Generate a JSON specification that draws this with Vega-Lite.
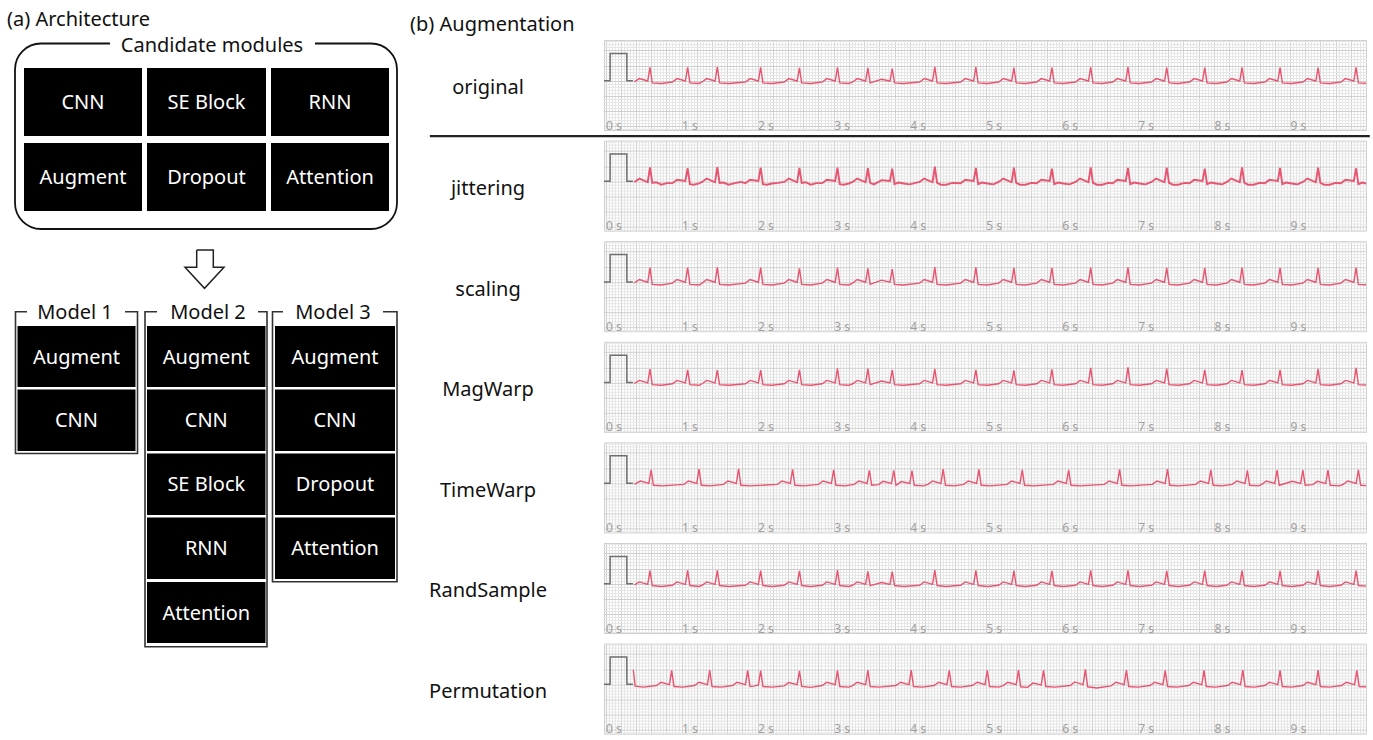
{
"$schema": "https://vega.github.io/schema/vega-lite/v6.json",
"background": "white",
"padding": 0,
"bounds": "flush",
"spacing": 4,
"config": {"view": {"stroke": null}, "font": "Noto Sans", "text": {"font": "Noto Sans"}, "axis": {"labelFont": "Noto Sans"}},
"hconcat": [
{
"width": 600, "height": 700,
"layer": [
{"data": {"values": [{"x1": 0, "x2": 600, "y1": 0, "y2": 740}]},
 "mark": {"type": "rect", "fill": "white"},
 "encoding": {"x": {"field": "x1", "type": "quantitative", "scale": {"domain": [0, 600], "nice": false, "zero": false}, "axis": null}, "x2": {"field": "x2"},
  "y": {"field": "y1", "type": "quantitative", "scale": {"domain": [40, 740], "reverse": true, "nice": false, "zero": false}, "axis": null}, "y2": {"field": "y2"}}},
{"data": {"values": [{"x1": 15, "x2": 397, "y1": 43.5, "y2": 229}]},
 "mark": {"type": "rect", "fill": "transparent", "stroke": "#111", "strokeWidth": 1.8, "cornerRadius": 26},
 "encoding": {"x": {"field": "x1", "type": "quantitative", "scale": {"domain": [0, 600], "nice": false, "zero": false}, "axis": null}, "x2": {"field": "x2"},
  "y": {"field": "y1", "type": "quantitative", "scale": {"domain": [40, 740], "reverse": true, "nice": false, "zero": false}, "axis": null}, "y2": {"field": "y2"}}},
{"data": {"values": [{"x1": 15.5, "x2": 137.5, "y1": 311.7, "y2": 453.5}, {"x1": 145, "x2": 267, "y1": 311.7, "y2": 646.7}, {"x1": 272.5, "x2": 397, "y1": 311.7, "y2": 581.7}]},
 "mark": {"type": "rect", "fill": "transparent", "stroke": "#333", "strokeWidth": 1.6},
 "encoding": {"x": {"field": "x1", "type": "quantitative", "scale": {"domain": [0, 600], "nice": false, "zero": false}, "axis": null}, "x2": {"field": "x2"},
  "y": {"field": "y1", "type": "quantitative", "scale": {"domain": [40, 740], "reverse": true, "nice": false, "zero": false}, "axis": null}, "y2": {"field": "y2"}}},
{"data": {"values": [{"x1": 110, "x2": 315, "y1": 35, "y2": 56}, {"x1": 27, "x2": 125, "y1": 302, "y2": 322}, {"x1": 157, "x2": 258, "y1": 302, "y2": 322}, {"x1": 283, "x2": 383, "y1": 302, "y2": 322}]},
 "mark": {"type": "rect", "fill": "white"},
 "encoding": {"x": {"field": "x1", "type": "quantitative", "scale": {"domain": [0, 600], "nice": false, "zero": false}, "axis": null}, "x2": {"field": "x2"},
  "y": {"field": "y1", "type": "quantitative", "scale": {"domain": [40, 740], "reverse": true, "nice": false, "zero": false}, "axis": null}, "y2": {"field": "y2"}}},
{"data": {"name": "cells", "values": [
  {"name": "CNN", "x1": 24, "x2": 142, "y1": 68, "y2": 136, "cx": 83, "cy": 103},
  {"name": "SE Block", "x1": 147, "x2": 266, "y1": 68, "y2": 136, "cx": 206.5, "cy": 103},
  {"name": "RNN", "x1": 271, "x2": 389, "y1": 68, "y2": 136, "cx": 330, "cy": 103},
  {"name": "Augment", "x1": 24, "x2": 142, "y1": 143, "y2": 211, "cx": 83, "cy": 178},
  {"name": "Dropout", "x1": 147, "x2": 266, "y1": 143, "y2": 211, "cx": 206.5, "cy": 178},
  {"name": "Attention", "x1": 271, "x2": 389, "y1": 143, "y2": 211, "cx": 330, "cy": 178},
  {"name": "Augment", "x1": 17.5, "x2": 135.5, "y1": 326, "y2": 387, "cx": 76.5, "cy": 357.5},
  {"name": "CNN", "x1": 17.5, "x2": 135.5, "y1": 389.5, "y2": 451, "cx": 76.5, "cy": 421},
  {"name": "Augment", "x1": 147, "x2": 265.5, "y1": 326, "y2": 387, "cx": 206.3, "cy": 357.5},
  {"name": "CNN", "x1": 147, "x2": 265.5, "y1": 389.5, "y2": 451, "cx": 206.3, "cy": 421},
  {"name": "SE Block", "x1": 147, "x2": 265.5, "y1": 453.5, "y2": 515, "cx": 206.3, "cy": 485},
  {"name": "RNN", "x1": 147, "x2": 265.5, "y1": 517.5, "y2": 579, "cx": 206.3, "cy": 549},
  {"name": "Attention", "x1": 147, "x2": 265.5, "y1": 582, "y2": 643, "cx": 206.3, "cy": 613.5},
  {"name": "Augment", "x1": 275, "x2": 395, "y1": 326, "y2": 387, "cx": 335, "cy": 357.5},
  {"name": "CNN", "x1": 275, "x2": 395, "y1": 389.5, "y2": 451, "cx": 335, "cy": 421},
  {"name": "Dropout", "x1": 275, "x2": 395, "y1": 453.5, "y2": 515, "cx": 335, "cy": 485},
  {"name": "Attention", "x1": 275, "x2": 395, "y1": 517.5, "y2": 579, "cx": 335, "cy": 549}
 ]},
 "layer": [
  {"mark": {"type": "rect", "fill": "black"},
   "encoding": {"x": {"field": "x1", "type": "quantitative", "scale": {"domain": [0, 600], "nice": false, "zero": false}, "axis": null}, "x2": {"field": "x2"},
    "y": {"field": "y1", "type": "quantitative", "scale": {"domain": [40, 740], "reverse": true, "nice": false, "zero": false}, "axis": null}, "y2": {"field": "y2"}}},
  {"mark": {"type": "text", "color": "white", "fontSize": 20, "align": "center", "baseline": "middle"},
   "encoding": {"x": {"field": "cx", "type": "quantitative", "scale": {"domain": [0, 600], "nice": false, "zero": false}, "axis": null},
    "y": {"field": "cy", "type": "quantitative", "scale": {"domain": [40, 740], "reverse": true, "nice": false, "zero": false}, "axis": null},
    "text": {"field": "name"}}}
 ]},
{"data": {"values": [{"label": "Candidate modules", "x1": 212, "y1": 45.5}, {"label": "Model 1", "x1": 75, "y1": 313}, {"label": "Model 2", "x1": 208, "y1": 313}, {"label": "Model 3", "x1": 333, "y1": 313}]},
 "mark": {"type": "text", "color": "#111", "fontSize": 20, "align": "center", "baseline": "middle"},
 "encoding": {"x": {"field": "x1", "type": "quantitative", "scale": {"domain": [0, 600], "nice": false, "zero": false}, "axis": null},
  "y": {"field": "y1", "type": "quantitative", "scale": {"domain": [40, 740], "reverse": true, "nice": false, "zero": false}, "axis": null},
  "text": {"field": "label"}}},
{"data": {"values": [{"i": 1, "x1": 196.7, "y1": 250}, {"i": 2, "x1": 213.3, "y1": 250}, {"i": 3, "x1": 213.3, "y1": 267.3}, {"i": 4, "x1": 224, "y1": 267.3}, {"i": 5, "x1": 204.5, "y1": 288.3}, {"i": 6, "x1": 185, "y1": 267.3}, {"i": 7, "x1": 196.7, "y1": 267.3}, {"i": 8, "x1": 196.7, "y1": 250}]},
 "mark": {"type": "line", "color": "#222", "strokeWidth": 1.5},
 "encoding": {"x": {"field": "x1", "type": "quantitative", "scale": {"domain": [0, 600], "nice": false, "zero": false}, "axis": null},
  "y": {"field": "y1", "type": "quantitative", "scale": {"domain": [40, 740], "reverse": true, "nice": false, "zero": false}, "axis": null},
  "order": {"field": "i", "type": "quantitative"}}},
{"data": {"values": [{"label": "(a) Architecture", "x1": 7, "y1": 10}, {"label": "(b) Augmentation", "x1": 410, "y1": 15}]},
 "mark": {"type": "text", "color": "#111", "fontSize": 20, "align": "left", "baseline": "top"},
 "encoding": {"x": {"field": "x1", "type": "quantitative", "scale": {"domain": [0, 600], "nice": false, "zero": false}, "axis": null},
  "y": {"field": "y1", "type": "quantitative", "scale": {"domain": [40, 740], "reverse": true, "nice": false, "zero": false}, "axis": null},
  "text": {"field": "label"}}}
]
},
{
"data": {"values": [
{"part": "cal", "t": -0.02, "original": 0, "jittering": 0, "scaling": 0, "MagWarp": 0, "TimeWarp": 0, "RandSample": 0, "Permutation": 0},
{"part": "cal", "t": 0.06, "original": 0, "jittering": 0, "scaling": 0, "MagWarp": 0, "TimeWarp": 0, "RandSample": 0, "Permutation": 0},
{"part": "cal", "t": 0.061, "original": 0.9, "jittering": 0.9, "scaling": 0.9, "MagWarp": 0.9, "TimeWarp": 0.9, "RandSample": 0.9, "Permutation": 0.9},
{"part": "cal", "t": 0.28, "original": 0.9, "jittering": 0.9, "scaling": 0.9, "MagWarp": 0.9, "TimeWarp": 0.9, "RandSample": 0.9, "Permutation": 0.9},
{"part": "cal", "t": 0.281, "original": 0, "jittering": 0, "scaling": 0, "MagWarp": 0, "TimeWarp": 0, "RandSample": 0, "Permutation": 0},
{"part": "cal", "t": 0.36, "original": 0, "jittering": 0, "scaling": 0, "MagWarp": 0, "TimeWarp": 0, "RandSample": 0, "Permutation": 0},
{"part": "label", "original": 0, "jittering": 0, "scaling": 0, "MagWarp": 0, "TimeWarp": 0, "RandSample": 0, "Permutation": 0},
{"part": "sep", "original": 0},
{"t": 0.38, "original": -0.03, "jittering": -0.02, "scaling": -0.03, "MagWarp": -0.03, "RandSample": -0.04},
{"t": 0.445, "original": 0.07, "jittering": 0.09, "scaling": 0.08, "MagWarp": 0.07, "RandSample": 0.06},
{"t": 0.555, "original": -0.01, "jittering": -0.03, "scaling": -0.01, "MagWarp": -0.01, "RandSample": -0.02},
{"t": 0.585, "original": 0.44, "jittering": 0.46, "scaling": 0.47, "MagWarp": 0.44, "RandSample": 0.43},
{"t": 0.615, "original": -0.07, "jittering": -0.05, "scaling": -0.08, "MagWarp": -0.07, "RandSample": -0.06},
{"t": 0.735, "original": -0.09, "jittering": -0.11, "scaling": -0.1, "MagWarp": -0.09, "RandSample": -0.09},
{"t": 0.88, "original": -0.04, "jittering": -0.06, "scaling": -0.04, "MagWarp": -0.04, "RandSample": -0.05},
{"t": 0.94, "original": 0.07, "jittering": 0.05, "scaling": 0.08, "MagWarp": 0.07, "RandSample": 0.06},
{"t": 1.05, "original": -0.01, "jittering": 0.01, "scaling": -0.01, "MagWarp": -0.01, "RandSample": -0.02},
{"t": 1.08, "original": 0.44, "jittering": 0.43, "scaling": 0.47, "MagWarp": 0.42, "RandSample": 0.44},
{"t": 1.11, "original": -0.07, "jittering": -0.09, "scaling": -0.08, "MagWarp": -0.07, "RandSample": -0.06},
{"t": 1.23, "original": -0.09, "jittering": -0.07, "scaling": -0.1, "MagWarp": -0.09, "RandSample": -0.09},
{"t": 1.27, "original": -0.04, "jittering": -0.02, "scaling": -0.04, "MagWarp": -0.04, "RandSample": -0.05},
{"t": 1.33, "original": 0.07, "jittering": 0.09, "scaling": 0.08, "MagWarp": 0.07, "RandSample": 0.06},
{"t": 1.44, "original": -0.01, "jittering": -0.03, "scaling": -0.01, "MagWarp": -0.01, "RandSample": -0.02},
{"t": 1.47, "original": 0.45, "jittering": 0.47, "scaling": 0.48, "MagWarp": 0.41, "RandSample": 0.44},
{"t": 1.5, "original": -0.07, "jittering": -0.05, "scaling": -0.08, "MagWarp": -0.07, "RandSample": -0.06},
{"t": 1.62, "original": -0.09, "jittering": -0.11, "scaling": -0.1, "MagWarp": -0.09, "RandSample": -0.09},
{"t": 1.84, "original": -0.04, "jittering": -0.06, "scaling": -0.04, "MagWarp": -0.04, "RandSample": -0.05},
{"t": 1.9, "original": 0.07, "jittering": 0.05, "scaling": 0.08, "MagWarp": 0.07, "RandSample": 0.06},
{"t": 2.01, "original": -0.01, "jittering": 0.01, "scaling": -0.01, "MagWarp": -0.01, "RandSample": -0.02},
{"t": 2.04, "original": 0.44, "jittering": 0.45, "scaling": 0.47, "MagWarp": 0.41, "RandSample": 0.43},
{"t": 2.07, "original": -0.07, "jittering": -0.09, "scaling": -0.08, "MagWarp": -0.07, "RandSample": -0.06},
{"t": 2.19, "original": -0.09, "jittering": -0.07, "scaling": -0.1, "MagWarp": -0.09, "RandSample": -0.09},
{"t": 2.35, "original": -0.04, "jittering": -0.02, "scaling": -0.04, "MagWarp": -0.04, "RandSample": -0.05},
{"t": 2.41, "original": 0.07, "jittering": 0.09, "scaling": 0.08, "MagWarp": 0.07, "RandSample": 0.06},
{"t": 2.52, "original": -0.01, "jittering": -0.03, "scaling": -0.01, "MagWarp": -0.01, "RandSample": -0.02},
{"t": 2.55, "original": 0.42, "jittering": 0.44, "scaling": 0.45, "MagWarp": 0.42, "RandSample": 0.42},
{"t": 2.58, "original": -0.07, "jittering": -0.05, "scaling": -0.08, "MagWarp": -0.07, "RandSample": -0.06},
{"t": 2.7, "original": -0.09, "jittering": -0.11, "scaling": -0.1, "MagWarp": -0.09, "RandSample": -0.09},
{"t": 2.85, "original": -0.04, "jittering": -0.06, "scaling": -0.04, "MagWarp": -0.04, "RandSample": -0.05},
{"t": 2.91, "original": 0.07, "jittering": 0.05, "scaling": 0.08, "MagWarp": 0.07, "RandSample": 0.06},
{"t": 3.02, "original": -0.01, "jittering": 0.01, "scaling": -0.01, "MagWarp": -0.01, "RandSample": -0.02},
{"t": 3.05, "original": 0.44, "jittering": 0.45, "scaling": 0.47, "MagWarp": 0.47, "RandSample": 0.45},
{"t": 3.08, "original": -0.07, "jittering": -0.09, "scaling": -0.08, "MagWarp": -0.07, "RandSample": -0.06},
{"t": 3.2, "original": -0.09, "jittering": -0.07, "scaling": -0.1, "MagWarp": -0.09, "RandSample": -0.09},
{"t": 3.25, "original": -0.04, "jittering": -0.02, "scaling": -0.04, "MagWarp": -0.04, "RandSample": -0.05},
{"t": 3.31, "original": 0.07, "jittering": 0.09, "scaling": 0.08, "MagWarp": 0.07, "RandSample": 0.06},
{"t": 3.42, "original": -0.01, "jittering": -0.03, "scaling": -0.01, "MagWarp": -0.01, "RandSample": -0.02},
{"t": 3.45, "original": 0.42, "jittering": 0.43, "scaling": 0.45, "MagWarp": 0.46, "RandSample": 0.41},
{"t": 3.48, "original": -0.07, "jittering": -0.05, "scaling": -0.08, "MagWarp": -0.07, "RandSample": -0.06},
{"t": 3.63, "original": 0.05, "jittering": 0.04, "scaling": 0.06, "MagWarp": 0.05, "RandSample": 0.04},
{"t": 3.74, "original": -0.01, "jittering": 0.01, "scaling": -0.01, "MagWarp": -0.01, "RandSample": -0.02},
{"t": 3.77, "original": 0.4, "jittering": 0.42, "scaling": 0.42, "MagWarp": 0.42, "RandSample": 0.4},
{"t": 3.8, "original": -0.07, "jittering": -0.09, "scaling": -0.08, "MagWarp": -0.07, "RandSample": -0.06},
{"t": 3.92, "original": -0.09, "jittering": -0.07, "scaling": -0.1, "MagWarp": -0.09, "RandSample": -0.09},
{"t": 4.13, "original": -0.04, "jittering": -0.02, "scaling": -0.04, "MagWarp": -0.04, "RandSample": -0.05},
{"t": 4.19, "original": 0.07, "jittering": 0.09, "scaling": 0.08, "MagWarp": 0.07, "RandSample": 0.06},
{"t": 4.3, "original": -0.01, "jittering": -0.03, "scaling": -0.01, "MagWarp": -0.01, "RandSample": -0.02},
{"t": 4.33, "original": 0.46, "jittering": 0.48, "scaling": 0.49, "MagWarp": 0.45, "RandSample": 0.45},
{"t": 4.36, "original": -0.07, "jittering": -0.05, "scaling": -0.08, "MagWarp": -0.07, "RandSample": -0.06},
{"t": 4.48, "original": -0.09, "jittering": -0.11, "scaling": -0.1, "MagWarp": -0.09, "RandSample": -0.09},
{"t": 4.67, "original": -0.04, "jittering": -0.06, "scaling": -0.04, "MagWarp": -0.04, "RandSample": -0.05},
{"t": 4.73, "original": 0.07, "jittering": 0.05, "scaling": 0.08, "MagWarp": 0.07, "RandSample": 0.06},
{"t": 4.84, "original": -0.01, "jittering": 0.01, "scaling": -0.01, "MagWarp": -0.01, "RandSample": -0.02},
{"t": 4.87, "original": 0.45, "jittering": 0.44, "scaling": 0.48, "MagWarp": 0.42, "RandSample": 0.44},
{"t": 4.9, "original": -0.07, "jittering": -0.09, "scaling": -0.08, "MagWarp": -0.07, "RandSample": -0.06},
{"t": 5.02, "original": -0.09, "jittering": -0.07, "scaling": -0.1, "MagWarp": -0.09, "RandSample": -0.09},
{"t": 5.17, "original": -0.04, "jittering": -0.02, "scaling": -0.04, "MagWarp": -0.04, "RandSample": -0.05},
{"t": 5.23, "original": 0.07, "jittering": 0.09, "scaling": 0.08, "MagWarp": 0.07, "RandSample": 0.06},
{"t": 5.34, "original": -0.01, "jittering": -0.03, "scaling": -0.01, "MagWarp": -0.01, "RandSample": -0.02},
{"t": 5.37, "original": 0.43, "jittering": 0.45, "scaling": 0.46, "MagWarp": 0.4, "RandSample": 0.43},
{"t": 5.4, "original": -0.07, "jittering": -0.05, "scaling": -0.08, "MagWarp": -0.07, "RandSample": -0.06},
{"t": 5.52, "original": -0.09, "jittering": -0.11, "scaling": -0.1, "MagWarp": -0.09, "RandSample": -0.09},
{"t": 5.67, "original": -0.04, "jittering": -0.06, "scaling": -0.04, "MagWarp": -0.04, "RandSample": -0.05},
{"t": 5.73, "original": 0.07, "jittering": 0.05, "scaling": 0.08, "MagWarp": 0.07, "RandSample": 0.06},
{"t": 5.84, "original": -0.01, "jittering": 0.01, "scaling": -0.01, "MagWarp": -0.01, "RandSample": -0.02},
{"t": 5.87, "original": 0.43, "jittering": 0.42, "scaling": 0.46, "MagWarp": 0.43, "RandSample": 0.42},
{"t": 5.9, "original": -0.07, "jittering": -0.09, "scaling": -0.08, "MagWarp": -0.07, "RandSample": -0.06},
{"t": 6.02, "original": -0.09, "jittering": -0.07, "scaling": -0.1, "MagWarp": -0.09, "RandSample": -0.09},
{"t": 6.18, "original": -0.04, "jittering": -0.02, "scaling": -0.04, "MagWarp": -0.04, "RandSample": -0.05},
{"t": 6.24, "original": 0.07, "jittering": 0.09, "scaling": 0.08, "MagWarp": 0.07, "RandSample": 0.06},
{"t": 6.35, "original": -0.01, "jittering": -0.03, "scaling": -0.01, "MagWarp": -0.01, "RandSample": -0.02},
{"t": 6.38, "original": 0.44, "jittering": 0.46, "scaling": 0.47, "MagWarp": 0.48, "RandSample": 0.44},
{"t": 6.41, "original": -0.07, "jittering": -0.05, "scaling": -0.08, "MagWarp": -0.07, "RandSample": -0.06},
{"t": 6.53, "original": -0.09, "jittering": -0.11, "scaling": -0.1, "MagWarp": -0.09, "RandSample": -0.09},
{"t": 6.67, "original": -0.04, "jittering": -0.06, "scaling": -0.04, "MagWarp": -0.04, "RandSample": -0.05},
{"t": 6.73, "original": 0.07, "jittering": 0.05, "scaling": 0.08, "MagWarp": 0.07, "RandSample": 0.06},
{"t": 6.84, "original": -0.01, "jittering": 0.01, "scaling": -0.01, "MagWarp": -0.01, "RandSample": -0.02},
{"t": 6.87, "original": 0.45, "jittering": 0.44, "scaling": 0.48, "MagWarp": 0.5, "RandSample": 0.44},
{"t": 6.9, "original": -0.07, "jittering": -0.09, "scaling": -0.08, "MagWarp": -0.07, "RandSample": -0.06},
{"t": 7.02, "original": -0.09, "jittering": -0.07, "scaling": -0.1, "MagWarp": -0.09, "RandSample": -0.09},
{"t": 7.18, "original": -0.04, "jittering": -0.02, "scaling": -0.04, "MagWarp": -0.04, "RandSample": -0.05},
{"t": 7.24, "original": 0.07, "jittering": 0.09, "scaling": 0.08, "MagWarp": 0.07, "RandSample": 0.06},
{"t": 7.35, "original": -0.01, "jittering": -0.03, "scaling": -0.01, "MagWarp": -0.01, "RandSample": -0.02},
{"t": 7.38, "original": 0.43, "jittering": 0.45, "scaling": 0.46, "MagWarp": 0.46, "RandSample": 0.42},
{"t": 7.41, "original": -0.07, "jittering": -0.05, "scaling": -0.08, "MagWarp": -0.07, "RandSample": -0.06},
{"t": 7.53, "original": -0.09, "jittering": -0.11, "scaling": -0.1, "MagWarp": -0.09, "RandSample": -0.09},
{"t": 7.68, "original": -0.04, "jittering": -0.06, "scaling": -0.04, "MagWarp": -0.04, "RandSample": -0.05},
{"t": 7.74, "original": 0.07, "jittering": 0.05, "scaling": 0.08, "MagWarp": 0.07, "RandSample": 0.06},
{"t": 7.85, "original": -0.01, "jittering": 0.01, "scaling": -0.01, "MagWarp": -0.01, "RandSample": -0.02},
{"t": 7.88, "original": 0.43, "jittering": 0.42, "scaling": 0.46, "MagWarp": 0.42, "RandSample": 0.43},
{"t": 7.91, "original": -0.07, "jittering": -0.09, "scaling": -0.08, "MagWarp": -0.07, "RandSample": -0.06},
{"t": 8.03, "original": -0.09, "jittering": -0.07, "scaling": -0.1, "MagWarp": -0.09, "RandSample": -0.09},
{"t": 8.17, "original": -0.04, "jittering": -0.02, "scaling": -0.04, "MagWarp": -0.04, "RandSample": -0.05},
{"t": 8.23, "original": 0.07, "jittering": 0.09, "scaling": 0.08, "MagWarp": 0.07, "RandSample": 0.06},
{"t": 8.34, "original": -0.01, "jittering": -0.03, "scaling": -0.01, "MagWarp": -0.01, "RandSample": -0.02},
{"t": 8.37, "original": 0.44, "jittering": 0.46, "scaling": 0.47, "MagWarp": 0.41, "RandSample": 0.43},
{"t": 8.4, "original": -0.07, "jittering": -0.05, "scaling": -0.08, "MagWarp": -0.07, "RandSample": -0.06},
{"t": 8.52, "original": -0.09, "jittering": -0.11, "scaling": -0.1, "MagWarp": -0.09, "RandSample": -0.09},
{"t": 8.67, "original": -0.04, "jittering": -0.06, "scaling": -0.04, "MagWarp": -0.04, "RandSample": -0.05},
{"t": 8.73, "original": 0.07, "jittering": 0.05, "scaling": 0.08, "MagWarp": 0.07, "RandSample": 0.06},
{"t": 8.84, "original": -0.01, "jittering": 0.01, "scaling": -0.01, "MagWarp": -0.01, "RandSample": -0.02},
{"t": 8.87, "original": 0.43, "jittering": 0.44, "scaling": 0.46, "MagWarp": 0.42, "RandSample": 0.42},
{"t": 8.9, "original": -0.07, "jittering": -0.09, "scaling": -0.08, "MagWarp": -0.07, "RandSample": -0.06},
{"t": 9.02, "original": -0.09, "jittering": -0.07, "scaling": -0.1, "MagWarp": -0.09, "RandSample": -0.09},
{"t": 9.17, "original": -0.04, "jittering": -0.02, "scaling": -0.04, "MagWarp": -0.04, "RandSample": -0.05},
{"t": 9.23, "original": 0.07, "jittering": 0.09, "scaling": 0.08, "MagWarp": 0.07, "RandSample": 0.06},
{"t": 9.34, "original": -0.01, "jittering": -0.03, "scaling": -0.01, "MagWarp": -0.01, "RandSample": -0.02},
{"t": 9.37, "original": 0.43, "jittering": 0.45, "scaling": 0.46, "MagWarp": 0.45, "RandSample": 0.44},
{"t": 9.4, "original": -0.07, "jittering": -0.05, "scaling": -0.08, "MagWarp": -0.07, "RandSample": -0.06},
{"t": 9.52, "original": -0.09, "jittering": -0.11, "scaling": -0.1, "MagWarp": -0.09, "RandSample": -0.09},
{"t": 9.67, "original": -0.04, "jittering": -0.06, "scaling": -0.04, "MagWarp": -0.04, "RandSample": -0.05},
{"t": 9.73, "original": 0.07, "jittering": 0.05, "scaling": 0.08, "MagWarp": 0.07, "RandSample": 0.06},
{"t": 9.84, "original": -0.01, "jittering": 0.01, "scaling": -0.01, "MagWarp": -0.01, "RandSample": -0.02},
{"t": 9.87, "original": 0.44, "jittering": 0.43, "scaling": 0.47, "MagWarp": 0.48, "RandSample": 0.43},
{"t": 9.9, "original": -0.07, "jittering": -0.09, "scaling": -0.08, "MagWarp": -0.07, "RandSample": -0.06},
{"t": 10.0, "original": -0.08, "jittering": -0.07, "scaling": -0.09, "MagWarp": -0.08, "RandSample": -0.08},
{"t": 0.665, "jittering": -0.03}, {"t": 0.805, "jittering": -0.06}, {"t": 1.16, "jittering": -0.11}, {"t": 1.55, "jittering": -0.04},
{"t": 1.7, "jittering": -0.06}, {"t": 1.78, "jittering": -0.02}, {"t": 2.12, "jittering": -0.11}, {"t": 2.27, "jittering": -0.05},
{"t": 2.63, "jittering": -0.03}, {"t": 2.77, "jittering": -0.06}, {"t": 3.13, "jittering": -0.11}, {"t": 3.53, "jittering": -0.1},
{"t": 3.85, "jittering": -0.04}, {"t": 4.0, "jittering": -0.1}, {"t": 4.41, "jittering": -0.11}, {"t": 4.56, "jittering": -0.05},
{"t": 4.95, "jittering": -0.04}, {"t": 5.1, "jittering": -0.1}, {"t": 5.45, "jittering": -0.11}, {"t": 5.6, "jittering": -0.05},
{"t": 5.95, "jittering": -0.04}, {"t": 6.1, "jittering": -0.1}, {"t": 6.46, "jittering": -0.11}, {"t": 6.61, "jittering": -0.05},
{"t": 6.95, "jittering": -0.04}, {"t": 7.1, "jittering": -0.1}, {"t": 7.46, "jittering": -0.11}, {"t": 7.61, "jittering": -0.05},
{"t": 7.96, "jittering": -0.04}, {"t": 8.11, "jittering": -0.1}, {"t": 8.45, "jittering": -0.11}, {"t": 8.6, "jittering": -0.05},
{"t": 8.95, "jittering": -0.04}, {"t": 9.1, "jittering": -0.1}, {"t": 9.45, "jittering": -0.11}, {"t": 9.6, "jittering": -0.05},
{"t": 9.95, "jittering": -0.04},
{"t": 0.38, "TimeWarp": -0.03}, {"t": 0.46, "TimeWarp": 0.07}, {"t": 0.57, "TimeWarp": -0.01}, {"t": 0.6, "TimeWarp": 0.44}, {"t": 0.63, "TimeWarp": -0.07}, {"t": 0.75, "TimeWarp": -0.09},
{"t": 1.03, "TimeWarp": -0.04}, {"t": 1.09, "TimeWarp": 0.07}, {"t": 1.2, "TimeWarp": -0.01}, {"t": 1.23, "TimeWarp": 0.46}, {"t": 1.26, "TimeWarp": -0.07}, {"t": 1.38, "TimeWarp": -0.09},
{"t": 1.55, "TimeWarp": -0.04}, {"t": 1.61, "TimeWarp": 0.07}, {"t": 1.72, "TimeWarp": -0.01}, {"t": 1.75, "TimeWarp": 0.47}, {"t": 1.78, "TimeWarp": -0.07}, {"t": 1.9, "TimeWarp": -0.09},
{"t": 2.26, "TimeWarp": -0.04}, {"t": 2.32, "TimeWarp": 0.07}, {"t": 2.43, "TimeWarp": -0.01}, {"t": 2.46, "TimeWarp": 0.45}, {"t": 2.49, "TimeWarp": -0.07}, {"t": 2.61, "TimeWarp": -0.09},
{"t": 2.8, "TimeWarp": -0.04}, {"t": 2.86, "TimeWarp": 0.07}, {"t": 2.97, "TimeWarp": -0.01}, {"t": 3.0, "TimeWarp": 0.44}, {"t": 3.03, "TimeWarp": -0.07}, {"t": 3.15, "TimeWarp": -0.09},
{"t": 3.27, "TimeWarp": -0.04}, {"t": 3.33, "TimeWarp": 0.07}, {"t": 3.44, "TimeWarp": -0.01}, {"t": 3.47, "TimeWarp": 0.42}, {"t": 3.5, "TimeWarp": -0.07},
{"t": 3.59, "TimeWarp": -0.05}, {"t": 3.65, "TimeWarp": 0.06}, {"t": 3.76, "TimeWarp": -0.01}, {"t": 3.79, "TimeWarp": 0.42}, {"t": 3.82, "TimeWarp": -0.07},
{"t": 3.89, "TimeWarp": 0.05}, {"t": 4.0, "TimeWarp": -0.01}, {"t": 4.03, "TimeWarp": 0.41}, {"t": 4.06, "TimeWarp": -0.07}, {"t": 4.18, "TimeWarp": -0.09},
{"t": 4.24, "TimeWarp": -0.04}, {"t": 4.3, "TimeWarp": 0.07}, {"t": 4.41, "TimeWarp": -0.01}, {"t": 4.44, "TimeWarp": 0.46}, {"t": 4.47, "TimeWarp": -0.07}, {"t": 4.59, "TimeWarp": -0.09},
{"t": 4.71, "TimeWarp": -0.04}, {"t": 4.77, "TimeWarp": 0.07}, {"t": 4.88, "TimeWarp": -0.01}, {"t": 4.91, "TimeWarp": 0.45}, {"t": 4.94, "TimeWarp": -0.07}, {"t": 5.06, "TimeWarp": -0.09},
{"t": 5.28, "TimeWarp": -0.04}, {"t": 5.34, "TimeWarp": 0.07}, {"t": 5.45, "TimeWarp": -0.01}, {"t": 5.48, "TimeWarp": 0.44}, {"t": 5.51, "TimeWarp": -0.07}, {"t": 5.63, "TimeWarp": -0.09},
{"t": 5.89, "TimeWarp": -0.04}, {"t": 5.95, "TimeWarp": 0.07}, {"t": 6.06, "TimeWarp": -0.01}, {"t": 6.09, "TimeWarp": 0.44}, {"t": 6.12, "TimeWarp": -0.07}, {"t": 6.24, "TimeWarp": -0.09},
{"t": 6.56, "TimeWarp": -0.04}, {"t": 6.62, "TimeWarp": 0.07}, {"t": 6.73, "TimeWarp": -0.01}, {"t": 6.76, "TimeWarp": 0.45}, {"t": 6.79, "TimeWarp": -0.07}, {"t": 6.91, "TimeWarp": -0.09},
{"t": 7.19, "TimeWarp": -0.04}, {"t": 7.25, "TimeWarp": 0.07}, {"t": 7.36, "TimeWarp": -0.01}, {"t": 7.39, "TimeWarp": 0.46}, {"t": 7.42, "TimeWarp": -0.07}, {"t": 7.54, "TimeWarp": -0.09},
{"t": 7.76, "TimeWarp": -0.04}, {"t": 7.82, "TimeWarp": 0.07}, {"t": 7.93, "TimeWarp": -0.01}, {"t": 7.96, "TimeWarp": 0.44}, {"t": 7.99, "TimeWarp": -0.07}, {"t": 8.11, "TimeWarp": -0.09},
{"t": 8.24, "TimeWarp": -0.04}, {"t": 8.3, "TimeWarp": 0.07}, {"t": 8.41, "TimeWarp": -0.01}, {"t": 8.44, "TimeWarp": 0.42}, {"t": 8.47, "TimeWarp": -0.07}, {"t": 8.59, "TimeWarp": -0.09},
{"t": 8.63, "TimeWarp": -0.04}, {"t": 8.69, "TimeWarp": 0.07}, {"t": 8.8, "TimeWarp": -0.01}, {"t": 8.83, "TimeWarp": 0.43}, {"t": 8.86, "TimeWarp": -0.07},
{"t": 9.03, "TimeWarp": 0.06}, {"t": 9.14, "TimeWarp": -0.01}, {"t": 9.17, "TimeWarp": 0.43}, {"t": 9.2, "TimeWarp": -0.07},
{"t": 9.3, "TimeWarp": -0.05}, {"t": 9.36, "TimeWarp": 0.06}, {"t": 9.47, "TimeWarp": -0.01}, {"t": 9.5, "TimeWarp": 0.43}, {"t": 9.53, "TimeWarp": -0.07}, {"t": 9.65, "TimeWarp": -0.09},
{"t": 9.7, "TimeWarp": -0.04}, {"t": 9.76, "TimeWarp": 0.07}, {"t": 9.87, "TimeWarp": -0.01}, {"t": 9.9, "TimeWarp": 0.44}, {"t": 9.93, "TimeWarp": -0.07}, {"t": 10.0, "TimeWarp": -0.08},
{"t": 0.365, "Permutation": 0.48}, {"t": 0.39, "Permutation": -0.06}, {"t": 0.5, "Permutation": -0.09},
{"t": 0.67, "Permutation": -0.04}, {"t": 0.73, "Permutation": 0.07}, {"t": 0.84, "Permutation": -0.01}, {"t": 0.87, "Permutation": 0.46}, {"t": 0.9, "Permutation": -0.07}, {"t": 1.02, "Permutation": -0.09},
{"t": 1.17, "Permutation": -0.04}, {"t": 1.23, "Permutation": 0.07}, {"t": 1.34, "Permutation": -0.01}, {"t": 1.37, "Permutation": 0.47}, {"t": 1.4, "Permutation": -0.07}, {"t": 1.52, "Permutation": -0.09},
{"t": 1.67, "Permutation": -0.04}, {"t": 1.73, "Permutation": 0.07}, {"t": 1.84, "Permutation": -0.01}, {"t": 1.87, "Permutation": 0.46}, {"t": 1.9, "Permutation": -0.07}, {"t": 1.95, "Permutation": -0.06},
{"t": 2.01, "Permutation": -0.02}, {"t": 2.04, "Permutation": 0.45}, {"t": 2.07, "Permutation": -0.07}, {"t": 2.19, "Permutation": -0.09},
{"t": 2.35, "Permutation": -0.05}, {"t": 2.41, "Permutation": 0.06}, {"t": 2.52, "Permutation": -0.01}, {"t": 2.55, "Permutation": 0.44}, {"t": 2.58, "Permutation": -0.07}, {"t": 2.7, "Permutation": -0.1},
{"t": 2.85, "Permutation": -0.04}, {"t": 2.91, "Permutation": 0.07}, {"t": 3.02, "Permutation": -0.01}, {"t": 3.05, "Permutation": 0.46}, {"t": 3.08, "Permutation": -0.07}, {"t": 3.2, "Permutation": -0.09},
{"t": 3.25, "Permutation": -0.04}, {"t": 3.31, "Permutation": 0.07}, {"t": 3.42, "Permutation": -0.01}, {"t": 3.45, "Permutation": 0.47}, {"t": 3.48, "Permutation": -0.07}, {"t": 3.6, "Permutation": -0.09},
{"t": 3.82, "Permutation": -0.04}, {"t": 3.88, "Permutation": 0.07}, {"t": 3.99, "Permutation": -0.01}, {"t": 4.02, "Permutation": 0.47}, {"t": 4.05, "Permutation": -0.07}, {"t": 4.17, "Permutation": -0.09},
{"t": 4.32, "Permutation": -0.04}, {"t": 4.38, "Permutation": 0.07}, {"t": 4.49, "Permutation": -0.01}, {"t": 4.52, "Permutation": 0.46}, {"t": 4.55, "Permutation": -0.07}, {"t": 4.67, "Permutation": -0.09},
{"t": 4.82, "Permutation": -0.04}, {"t": 4.89, "Permutation": 0.07}, {"t": 4.99, "Permutation": -0.01}, {"t": 5.02, "Permutation": 0.46}, {"t": 5.05, "Permutation": -0.07}, {"t": 5.17, "Permutation": -0.09},
{"t": 5.23, "Permutation": -0.04}, {"t": 5.29, "Permutation": 0.07}, {"t": 5.4, "Permutation": -0.01}, {"t": 5.43, "Permutation": 0.47}, {"t": 5.46, "Permutation": -0.08}, {"t": 5.55, "Permutation": -0.1},
{"t": 5.62, "Permutation": 0.04}, {"t": 5.73, "Permutation": -0.02}, {"t": 5.76, "Permutation": 0.46}, {"t": 5.79, "Permutation": -0.07}, {"t": 5.91, "Permutation": -0.09},
{"t": 6.11, "Permutation": -0.04}, {"t": 6.17, "Permutation": 0.08}, {"t": 6.28, "Permutation": -0.01}, {"t": 6.31, "Permutation": 0.49}, {"t": 6.34, "Permutation": -0.08}, {"t": 6.46, "Permutation": -0.12},
{"t": 6.65, "Permutation": -0.05}, {"t": 6.71, "Permutation": 0.07}, {"t": 6.82, "Permutation": -0.01}, {"t": 6.85, "Permutation": 0.47}, {"t": 6.88, "Permutation": -0.07}, {"t": 7.0, "Permutation": -0.09},
{"t": 7.16, "Permutation": -0.04}, {"t": 7.22, "Permutation": 0.07}, {"t": 7.33, "Permutation": -0.01}, {"t": 7.36, "Permutation": 0.46}, {"t": 7.39, "Permutation": -0.07}, {"t": 7.51, "Permutation": -0.09},
{"t": 7.67, "Permutation": -0.04}, {"t": 7.73, "Permutation": 0.07}, {"t": 7.84, "Permutation": -0.01}, {"t": 7.87, "Permutation": 0.46}, {"t": 7.9, "Permutation": -0.07}, {"t": 8.02, "Permutation": -0.09},
{"t": 8.18, "Permutation": -0.04}, {"t": 8.24, "Permutation": 0.07}, {"t": 8.35, "Permutation": -0.01}, {"t": 8.38, "Permutation": 0.47}, {"t": 8.41, "Permutation": -0.07}, {"t": 8.53, "Permutation": -0.09},
{"t": 8.67, "Permutation": -0.04}, {"t": 8.73, "Permutation": 0.07}, {"t": 8.84, "Permutation": -0.01}, {"t": 8.87, "Permutation": 0.46}, {"t": 8.9, "Permutation": -0.07}, {"t": 9.02, "Permutation": -0.09},
{"t": 9.17, "Permutation": -0.04}, {"t": 9.23, "Permutation": 0.07}, {"t": 9.34, "Permutation": -0.01}, {"t": 9.37, "Permutation": 0.47}, {"t": 9.4, "Permutation": -0.07}, {"t": 9.52, "Permutation": -0.09},
{"t": 9.68, "Permutation": -0.04}, {"t": 9.74, "Permutation": 0.07}, {"t": 9.85, "Permutation": -0.01}, {"t": 9.88, "Permutation": 0.46}, {"t": 9.91, "Permutation": -0.07}, {"t": 10.0, "Permutation": -0.08}
]},
"transform": [
 {"fold": ["original", "jittering", "scaling", "MagWarp", "TimeWarp", "RandSample", "Permutation"], "as": ["s", "v"]},
 {"filter": "isValid(datum.v)"}
],
"facet": {"row": {"field": "s", "type": "nominal", "sort": ["original", "jittering", "scaling", "MagWarp", "TimeWarp", "RandSample", "Permutation"], "header": null}},
"spacing": 10.6,
"bounds": "flush",
"resolve": {"axis": {"x": "independent", "y": "independent"}},
"spec": {
 "width": 762, "height": 90,
 "view": {"stroke": "#cccccc"},
 "layer": [
  {"transform": [{"filter": "datum.part === 'cal'"}],
   "mark": {"type": "line", "color": "#6e6e6e", "strokeWidth": 1.5},
   "encoding": {
    "x": {"field": "t", "type": "quantitative", "scale": {"domain": [-0.02, 10], "nice": false, "zero": false},
     "axis": {"orient": "bottom", "grid": true, "gridColor": "#e6e6e6", "labels": false, "ticks": false, "domain": false, "title": null,
      "values": [0.04,0.08,0.12,0.16,0.24,0.28,0.32,0.36,0.44,0.48,0.52,0.56,0.64,0.68,0.72,0.76,0.84,0.88,0.92,0.96,
1.04,1.08,1.12,1.16,1.24,1.28,1.32,1.36,1.44,1.48,1.52,1.56,1.64,1.68,1.72,1.76,1.84,1.88,1.92,1.96,
2.04,2.08,2.12,2.16,2.24,2.28,2.32,2.36,2.44,2.48,2.52,2.56,2.64,2.68,2.72,2.76,2.84,2.88,2.92,2.96,
3.04,3.08,3.12,3.16,3.24,3.28,3.32,3.36,3.44,3.48,3.52,3.56,3.64,3.68,3.72,3.76,3.84,3.88,3.92,3.96,
4.04,4.08,4.12,4.16,4.24,4.28,4.32,4.36,4.44,4.48,4.52,4.56,4.64,4.68,4.72,4.76,4.84,4.88,4.92,4.96,
5.04,5.08,5.12,5.16,5.24,5.28,5.32,5.36,5.44,5.48,5.52,5.56,5.64,5.68,5.72,5.76,5.84,5.88,5.92,5.96,
6.04,6.08,6.12,6.16,6.24,6.28,6.32,6.36,6.44,6.48,6.52,6.56,6.64,6.68,6.72,6.76,6.84,6.88,6.92,6.96,
7.04,7.08,7.12,7.16,7.24,7.28,7.32,7.36,7.44,7.48,7.52,7.56,7.64,7.68,7.72,7.76,7.84,7.88,7.92,7.96,
8.04,8.08,8.12,8.16,8.24,8.28,8.32,8.36,8.44,8.48,8.52,8.56,8.64,8.68,8.72,8.76,8.84,8.88,8.92,8.96,
9.04,9.08,9.12,9.16,9.24,9.28,9.32,9.36,9.44,9.48,9.52,9.56,9.64,9.68,9.72,9.76,9.84,9.88,9.92,9.96]}},
    "y": {"field": "v", "type": "quantitative", "scale": {"domain": [-1.62, 1.34], "nice": false, "zero": false},
     "axis": {"orient": "left", "grid": true, "gridColor": "#e6e6e6", "labels": false, "ticks": false, "domain": false, "title": null,
      "values": [-1.6,-1.4,-1.3,-1.2,-1.1,-0.9,-0.8,-0.7,-0.6,-0.4,-0.3,-0.2,-0.1,0.1,0.2,0.3,0.4,0.6,0.7,0.8,0.9,1.1,1.2,1.3]}}
   }},
  {"transform": [{"filter": "!isValid(datum.part)"}],
   "mark": {"type": "line", "color": "#e85570"},
   "encoding": {
    "x": {"field": "t", "type": "quantitative", "scale": {"domain": [-0.02, 10], "nice": false, "zero": false},
     "axis": {"orient": "bottom", "tickCount": 50, "grid": true, "gridColor": "#cfcfcf", "ticks": false, "domain": false, "title": null,
      "labelExpr": "abs(datum.value - round(datum.value)) < 0.01 && datum.value < 9.5 ? round(datum.value) + ' s' : ''",
      "labelOverlap": false, "labelFlush": false, "labelBound": false, "labelAlign": "left", "labelBaseline": "middle",
      "labelPadding": -5, "labelDx": 2, "labelFontSize": 12, "labelColor": "#a0a0a0"}},
    "y": {"field": "v", "type": "quantitative", "scale": {"domain": [-1.62, 1.34], "nice": false, "zero": false},
     "axis": {"orient": "left", "grid": true, "gridColor": "#cfcfcf", "labels": false, "ticks": false, "domain": false, "title": null,
      "values": [-1.5, -1, -0.5, 0, 0.5, 1]}},
    "strokeWidth": {"condition": {"test": "datum.s === 'jittering'", "value": 1.9}, "value": 1.4}
   }},
  {"transform": [{"filter": "datum.part === 'label'"}],
   "mark": {"type": "text", "fontSize": 20, "color": "#111", "align": "center", "baseline": "alphabetic"},
   "encoding": {
    "x": {"datum": -1.545, "type": "quantitative", "scale": {"domain": [-0.02, 10], "nice": false, "zero": false}, "axis": null},
    "y": {"datum": -0.45, "type": "quantitative", "scale": {"domain": [-1.62, 1.34], "nice": false, "zero": false}, "axis": null},
    "text": {"field": "s"}
   }},
  {"transform": [{"filter": "datum.part === 'sep'"}],
   "mark": {"type": "rule", "color": "#222", "strokeWidth": 2.4},
   "encoding": {
    "x": {"datum": -2.31, "type": "quantitative", "scale": {"domain": [-0.02, 10], "nice": false, "zero": false}, "axis": null},
    "x2": {"datum": 10.05},
    "y": {"datum": -1.82, "type": "quantitative", "scale": {"domain": [-1.62, 1.34], "nice": false, "zero": false}, "axis": null}
   }}
 ],
 "resolve": {"axis": {"x": "independent", "y": "independent"}}
}
}
]
}
